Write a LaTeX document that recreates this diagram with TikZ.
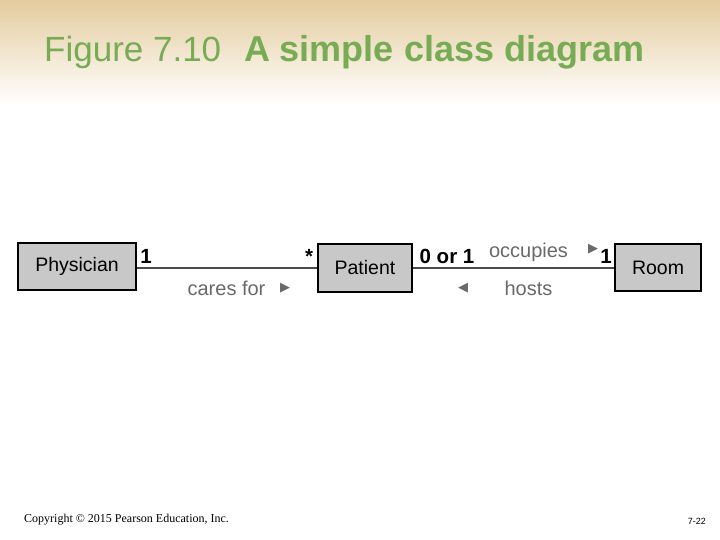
\documentclass[tikz,border=0pt]{standalone}
\usepackage{fontspec}
\setmainfont{Liberation Sans}
\newfontfamily\serifft{Liberation Serif}
\newfontfamily\symft{DejaVu Sans}
\definecolor{titlegreen}{RGB}{119,172,84}
\definecolor{tan}{RGB}{228,204,158}
\definecolor{boxgray}{RGB}{200,200,200}
\definecolor{labgray}{RGB}{105,105,105}
\definecolor{linegray}{RGB}{75,75,75}
\begin{document}
\begin{tikzpicture}[x=1pt,y=-1pt,
  classbox/.style={draw=black,line width=2pt,fill=boxgray,inner sep=0pt,font=\fontsize{19.5}{21}\selectfont},
  mult/.style={font=\bfseries\fontsize{20.5}{22}\selectfont,inner sep=0pt,anchor=base},
  role/.style={text=labgray,font=\fontsize{20}{22}\selectfont,inner sep=0pt,anchor=base},
  tri/.style={text=labgray,font=\symft\fontsize{13}{13}\selectfont,inner sep=0pt},
  assoc/.style={draw=linegray,line width=2pt}]
\useasboundingbox (0,0) rectangle (720,540);
\fill[white] (0,0) rectangle (720,540);
\shade[top color=tan,bottom color=white] (0,0) rectangle (720,105);
% title
\node[anchor=base west,inner sep=0pt,text=titlegreen] (title) at (44,62)
  {\fontsize{35}{40}\selectfont Figure 7.10\hspace{0.65em}\fontsize{36}{40}\selectfont\bfseries A simple class diagram};
% classes
\node[classbox,minimum width=118pt,minimum height=47pt] (phys) at (77,266.5) {Physician};
\node[classbox,minimum width=94pt,minimum height=48pt] (pat) at (365,268) {Patient};
\node[classbox,minimum width=86pt,minimum height=47pt] (room) at (658,267.5) {Room};
% associations
\draw[assoc] (phys.east |- 0,268) -- (pat.west |- 0,268);
\draw[assoc] (pat.east |- 0,268) -- (room.west |- 0,268);
% multiplicities
\node[mult] (m1) at (146,263) {1};
\node[mult] (m2) at (309,263) {*};
\node[mult] (m3) at (447,263) {0 or 1};
\node[mult] (m4) at (606,263) {1};
% roles
\node[role] (cf) at (226.5,295) {cares for};
\node[tri] (cft) at (285,288) {▶};
\node[role] (occ) at (528.5,257) {occupies};
\node[tri] (occt) at (593,249) {▶};
\node[tri] (hostt) at (463,288) {◀};
\node[role] (hosts) at (528.5,295) {hosts};
% footer
\node[anchor=base west,inner sep=0pt] (copy) at (24,522) {\serifft\fontsize{12}{14}\selectfont Copyright © 2015 Pearson Education, Inc.};
\node[anchor=base east,inner sep=0pt] (page) at (706,524) {\fontsize{9}{10}\selectfont 7-22};
\end{tikzpicture}
\end{document}
